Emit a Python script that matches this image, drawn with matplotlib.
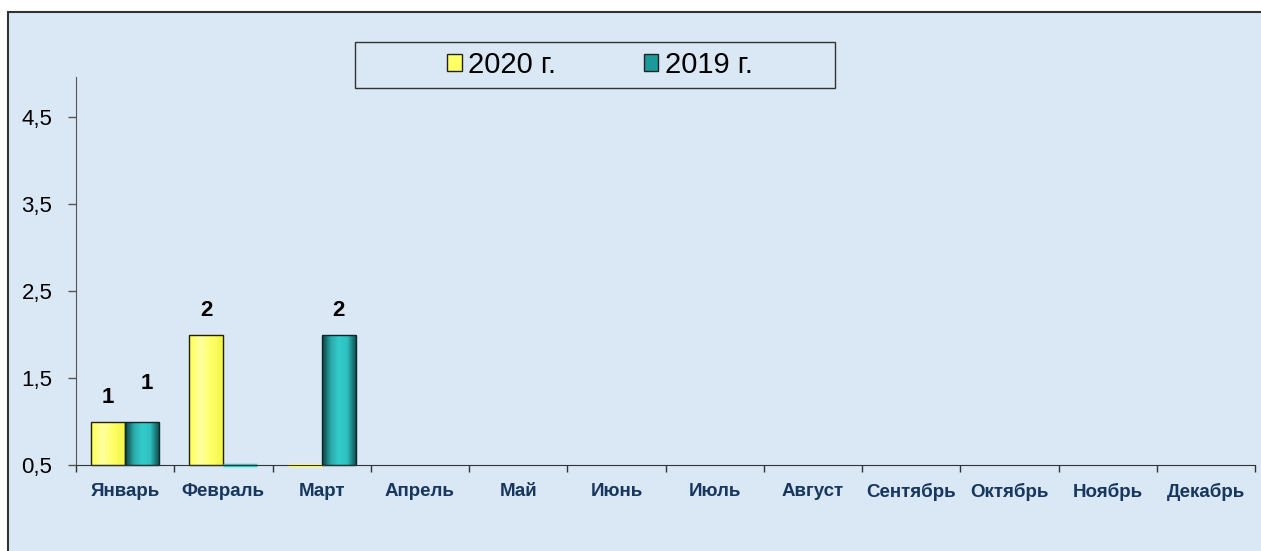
import numpy as np
import matplotlib.pyplot as plt
from matplotlib.colors import LinearSegmentedColormap
from matplotlib.patches import Rectangle, Patch

months = ['Январь', 'Февраль', 'Март', 'Апрель', 'Май', 'Июнь', 'Июль',
          'Август', 'Сентябрь', 'Октябрь', 'Ноябрь', 'Декабрь']
values_2020 = [1, 2, 0, None, None, None, None, None, None, None, None, None]
values_2019 = [1, 0, 2, None, None, None, None, None, None, None, None, None]
series_names = ['2020 г.', '2019 г.']
y_ticks = [0.5, 1.5, 2.5, 3.5, 4.5]
y_tick_labels = ['0,5', '1,5', '2,5', '3,5', '4,5']

plt.rcParams['font.family'] = ['Liberation Sans', 'DejaVu Sans']

W, H = 1261, 551
fig = plt.figure(figsize=(W / 100, H / 100), dpi=100)
fig.patch.set_facecolor('white')

# chart area frame (runs off the right and bottom of the picture)
bg = '#dae7f5'
fig.add_artist(Rectangle((8 / W, -0.05), 1.1, 1 - 12 / H + 0.05, transform=fig.transFigure,
                         facecolor=bg, edgecolor='#333333', linewidth=1.5, zorder=-5))

ax = fig.add_axes([76 / W, (H - 465) / H, (1255 - 76) / W, (465 - 77) / H])
ax.set_facecolor('none')
ax.set_xlim(-0.5, len(months) - 0.5)
ax.set_ylim(0.5, 4.96)

yellow_cmap = LinearSegmentedColormap.from_list('y', ['#ffff55', '#ffffa0', '#ffff66', '#f5f54a'])
teal_cmap = LinearSegmentedColormap.from_list('t', ['#0b3f3f', '#2aa8a8', '#33cccc', '#2fc0c0', '#0f5555'])

x = np.arange(len(months))
width = 0.345
base = 0.5
grad = np.linspace(0, 1, 64).reshape(1, -1)


def draw_series(xpos, vals, cmap, edge_color):
    # bars start at the axis crossing (0,5); a zero value shows only as a sliver on the axis
    idx = [i for i, v in enumerate(vals) if v is not None]
    heights = [max(vals[i], base) - base for i in idx]
    bars = ax.bar(xpos[idx], heights, width, bottom=base, color='none',
                  edgecolor=edge_color, linewidth=1.0, zorder=3, clip_on=False)
    for b in bars:
        if b.get_height() <= 0:
            b.set_edgecolor(cmap(0.6))
            b.set_linewidth(2.5)
            continue
        x0, y0 = b.get_x(), b.get_y()
        im = ax.imshow(grad, cmap=cmap, extent=(x0, x0 + b.get_width(), y0, y0 + b.get_height()),
                       aspect='auto', origin='lower', zorder=2, interpolation='bicubic')
        im.set_clip_path(b)
    return bars, [vals[i] for i in idx]


bars_2020, shown_2020 = draw_series(x - width / 2, values_2020, yellow_cmap, '#222200')
bars_2019, shown_2019 = draw_series(x + width / 2, values_2019, teal_cmap, '#062a2a')
ax.set_xlim(-0.5, len(months) - 0.5)
ax.set_ylim(0.5, 4.96)

all_labels = []
for bars, vals in [(bars_2020, shown_2020), (bars_2019, shown_2019)]:
    labels = [str(v) if v > 0 else '' for v in vals]
    all_labels.append(ax.bar_label(bars, labels=labels, padding=10, fontsize=16, fontweight='bold'))

# Excel nudged the January 2019 label up and right to keep it apart from its neighbour
jan_2019_label = all_labels[1][0]
jan_2019_label.xyann = (3.5, 20)

ax.set_yticks(y_ticks)
ax.set_yticklabels(y_tick_labels, fontsize=16)
ax.tick_params(axis='y', direction='out', length=6, width=1, color='#555555', pad=11)

ax.set_xticks(np.arange(len(months) + 1) - 0.5)
ax.set_xticklabels([])
ax.set_xticks(x, minor=True)
ax.set_xticklabels(months, minor=True, fontsize=13.5, fontweight='bold', color='#17375e')
ax.tick_params(axis='x', which='major', direction='out', length=5, width=1, color='#333333')
ax.tick_params(axis='x', which='minor', length=0, pad=13)

for side in ['top', 'right']:
    ax.spines[side].set_visible(False)
ax.spines['left'].set_color('#555555')
ax.spines['bottom'].set_color('#333333')
ax.spines['bottom'].set_zorder(4)

# legend box
fig.add_artist(Rectangle((355 / W, 1 - 88 / H), 480 / W, 46 / H, transform=fig.transFigure,
                         facecolor='none', edgecolor='#333333', linewidth=1.0))
handles = [Patch(facecolor='#ffff66', edgecolor='#222222'),
           Patch(facecolor='#1a9a9a', edgecolor='#222222')]
fig.legend(handles, series_names, loc='center', bbox_to_anchor=(600 / W, 1 - 65 / H),
           ncol=2, frameon=False, fontsize=21, handlelength=0.5, handleheight=0.5,
           handletextpad=0.22, columnspacing=3.0)

fig.savefig('out.png', dpi=100)
